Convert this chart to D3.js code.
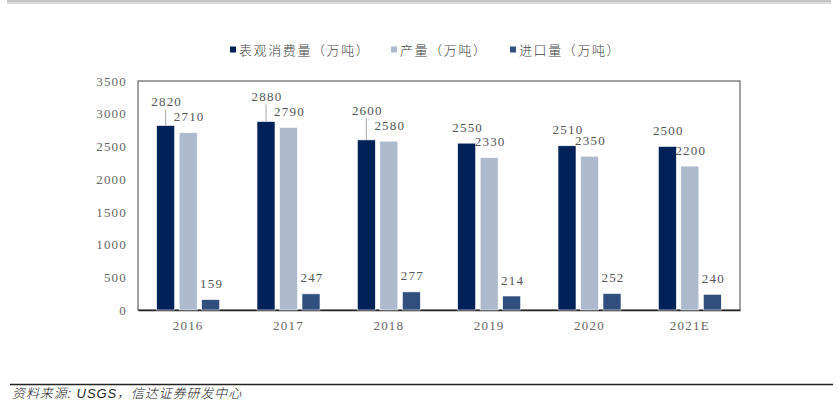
<!DOCTYPE html>
<html><head><meta charset="utf-8">
<script src="https://cdn.jsdelivr.net/npm/d3@7"></script>
<style>body{margin:0;background:#fff}svg{display:block}</style>
</head><body>
<svg id="c" width="837" height="408"></svg>
<script>
const categories = ["2016","2017","2018","2019","2020","2021E"];
const seriesNames = ["表观消费量（万吨）","产量（万吨）","进口量（万吨）"];
const consumption = [2820,2880,2600,2550,2510,2500];
const production = [2710,2790,2580,2330,2350,2200];
const imports = [159,247,277,214,252,240];
const yTicks = [0,500,1000,1500,2000,2500,3000,3500];
const sourceText = "资料来源: USGS，信达证券研发中心";

const colors = ["#012258","#adb9cc","#314f7e"];
const svg = d3.select("#c");
const m = {l:138, r:740, t:81, b:310};
const x0 = d3.scaleBand().domain(categories).range([m.l, m.r]).paddingInner(0).paddingOuter(0);
const x1 = d3.scaleBand().domain([0,1,2]).range([-31.5, 31.5]).paddingInner(0.2);
const y = d3.scaleLinear().domain([0,3500]).range([m.b, m.t]);
const numFont = "'Liberation Serif','DejaVu Serif',serif";

// top & bottom rules
svg.append("line").attr("x1",7).attr("x2",831).attr("y1",1).attr("y2",1).attr("stroke","#8a8a8a").attr("stroke-width",1);
svg.append("line").attr("x1",7).attr("x2",831).attr("y1",3).attr("y2",3).attr("stroke","#b5b5b5").attr("stroke-width",1);
svg.append("line").attr("x1",10).attr("x2",833).attr("y1",384.5).attr("y2",384.5).attr("stroke","#222").attr("stroke-width",1.3);
svg.append("text").attr("x",12).attr("y",398).attr("font-family","'Liberation Sans','Noto Sans CJK SC',sans-serif")
  .attr("font-style","italic").attr("font-size",13).attr("font-weight",300).attr("letter-spacing","0.9px")
  .attr("fill","#222").text(sourceText);

// frame
svg.append("rect").attr("x",m.l).attr("y",m.t).attr("width",m.r-m.l).attr("height",m.b-m.t)
  .attr("fill","none").attr("stroke","#444").attr("stroke-width",1);

// y axis
const ya = svg.append("g").attr("transform",`translate(${m.l},0)`)
  .call(d3.axisLeft(y).tickValues(yTicks).tickFormat(d3.format("d")).tickSize(0).tickPadding(11));
ya.select(".domain").remove();
ya.selectAll("text").attr("font-family",numFont).attr("font-size",13)
  .attr("fill","#666").attr("letter-spacing","1.2px");

// x axis
const xa = svg.append("g").attr("transform",`translate(0,${m.b})`)
  .call(d3.axisBottom(x0).tickSize(0).tickPadding(11));
xa.select(".domain").attr("stroke","#222").attr("stroke-width",1.6);
xa.selectAll("text").attr("font-family",numFont).attr("font-size",13)
  .attr("fill","#666").attr("letter-spacing","1.2px");

const series = [consumption, production, imports];
const g = svg.append("g");
series.forEach((vals, si) => {
  g.selectAll(".b"+si).data(vals).enter().append("rect")
    .attr("x",(d,i)=>x0(categories[i])+x0.bandwidth()/2+x1(si))
    .attr("y",d=>y(d)).attr("width",x1.bandwidth()).attr("height",d=>m.b-y(d))
    .attr("fill",colors[si]).attr("stroke","#fff").attr("stroke-width",0.6);
});

// labels
const lab = svg.append("g").attr("font-family",numFont).attr("font-size",13)
  .attr("fill","#555").attr("letter-spacing","1.2px").attr("text-anchor","middle");
categories.forEach((c,i) => {
  const cx = k => x0(c)+x0.bandwidth()/2+x1(k)+x1.bandwidth()/2;
  const ly = [y(consumption[i])-16, y(production[i])-16, y(imports[i])-16];
  let lifted = false;
  if (ly[1]-ly[0] < 10) { ly[0] = ly[1]-15; lifted = true; }
  [consumption[i],production[i],imports[i]].forEach((v,k)=>{
    lab.append("text").attr("x",cx(k)+1).attr("y",ly[k]).attr("dy","0.35em").text(v);
  });
  if (lifted) {
    svg.append("line").attr("x1",cx(0)).attr("x2",cx(0)).attr("y1",ly[0]+8).attr("y2",y(consumption[i]))
      .attr("stroke","#a6a6a6").attr("stroke-width",1);
  }
});

// legend
const legX = [230, 391, 510];
const leg = svg.append("g");
seriesNames.forEach((n,k)=>{
  leg.append("rect").attr("x",legX[k]).attr("y",46.5).attr("width",6).attr("height",6).attr("fill",colors[k]);
  leg.append("text").attr("x",legX[k]+9).attr("y",50).attr("dy","0.35em")
    .attr("font-family","'Noto Sans CJK SC',sans-serif").attr("font-size",13).attr("font-weight",300)
    .attr("fill","#444").attr("letter-spacing","1.6px").text(n);
});
</script>
</body></html>
